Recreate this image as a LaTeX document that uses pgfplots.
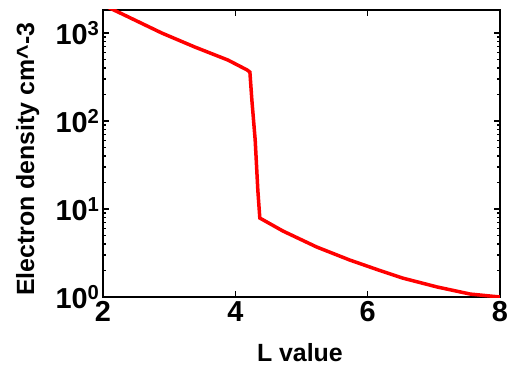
\documentclass[border=0pt]{standalone}
\usepackage{fontspec}
\setmainfont{Liberation Sans}
\usepackage{pgfplots}
\pgfplotsset{compat=1.18}
\begin{document}
\begin{tikzpicture}
\path[use as bounding box] (-103bp,-73bp) rectangle (405bp,297bp);
\begin{axis}[
  at={(0,0)}, anchor=south west,
  scale only axis, width=397bp, height=287bp,
  ymode=log, xmin=2, xmax=8, ymin=1, ymax=1830,
  xtick={2,4,6,8},
  ytick={1,10,100,1000},
  yticklabels={10\textsuperscript{0},10\textsuperscript{1},10\textsuperscript{2},10\textsuperscript{3}},
  minor ytick={2,3,4,5,6,7,8,9,20,30,40,50,60,70,80,90,200,300,400,500,600,700,800,900},
  xminorticks=false,
  tick align=inside,
  major tick length=6bp, minor tick length=3bp,
  every tick/.style={black, line width=1.5bp},
  axis line style={black, line width=2bp},
  /pgf/number format/assume math mode=true,
  ticklabel style={font=\fontsize{29}{29}\selectfont\bfseries},
  xticklabel style={yshift=-1bp},
  yticklabel style={xshift=0bp},
  xlabel={L value},
  ylabel={Electron density cm\textasciicircum-3},
  label style={font=\fontsize{25}{25}\selectfont\bfseries},
  xlabel style={at={(axis description cs:0.496,-0.192)}, anchor=center},
  ylabel style={at={(axis description cs:-0.19,0.48)}, anchor=center},
  clip=true,
]
\addplot[red, line width=3.5bp] coordinates {
(2,2090) (2.26,1690) (2.89,1000) (3.39,693) (3.89,493) (4.18,380) (4.22,360)
(4.25,173) (4.30,61) (4.34,16.4) (4.37,7.9)
(4.72,5.62) (5.23,3.70) (5.73,2.63) (6.16,2.03) (6.53,1.64) (7.05,1.30) (7.55,1.08) (8,1.0)
};
\end{axis}
\end{tikzpicture}
\end{document}
